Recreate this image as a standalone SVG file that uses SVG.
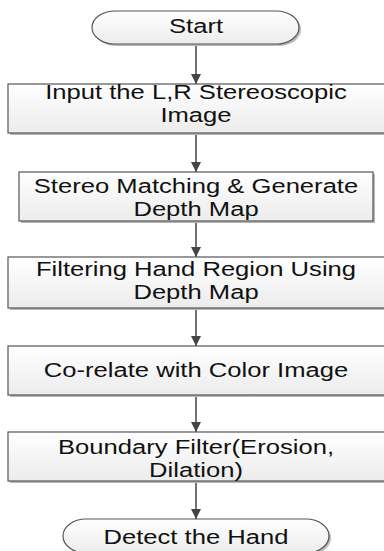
<svg xmlns="http://www.w3.org/2000/svg" width="384" height="551" viewBox="0 0 384 551">
<defs>
<linearGradient id="g" x1="0" y1="0" x2="0" y2="1">
<stop offset="0" stop-color="#ffffff"/>
<stop offset="1" stop-color="#ececec"/>
</linearGradient>
<marker id="ah" viewBox="0 0 10 10" refX="10" refY="5" markerWidth="10" markerHeight="10" markerUnits="userSpaceOnUse" orient="auto">
<path d="M0,0 L10,5 L0,10 z" fill="#444"/>
</marker>
<style>
.sh{fill:#b8b8b8;}
.bx{fill:url(#g);stroke:#555;stroke-width:1.2;}
.t{font-family:"Liberation Sans",Arial,sans-serif;font-size:20px;fill:#111;text-anchor:middle;}
.c{stroke:#444;stroke-width:1.5;fill:none;marker-end:url(#ah);}
</style>
</defs>
<g id="connectors">
<line class="c" x1="196" y1="44" x2="196" y2="84"/>
<line class="c" x1="196" y1="133" x2="196" y2="172"/>
<line class="c" x1="196" y1="221" x2="196" y2="257"/>
<line class="c" x1="196" y1="308" x2="196" y2="346"/>
<line class="c" x1="196" y1="395" x2="196" y2="432"/>
<line class="c" x1="196" y1="481" x2="196" y2="519"/>
</g>
<g id="start">
<rect class="sh" x="94" y="13" width="207" height="33" rx="23" ry="16.5"/>
<rect class="bx" x="92" y="11" width="207" height="33" rx="23" ry="16.5"/>
<text class="t" transform="translate(196 33) scale(1.28 1)">Start</text>
</g>
<g id="input">
<rect class="sh" x="10" y="86" width="380" height="49"/>
<rect class="bx" x="8" y="84" width="380" height="49"/>
<text class="t" transform="translate(196 99) scale(1.28 1)">Input the L,R Stereoscopic</text>
<text class="t" transform="translate(196 122) scale(1.28 1)">Image</text>
</g>
<g id="stereo">
<rect class="sh" x="21" y="174" width="354" height="49"/>
<rect class="bx" x="19" y="172" width="354" height="49"/>
<text class="t" transform="translate(196 193) scale(1.28 1)">Stereo Matching &amp; Generate</text>
<text class="t" transform="translate(196 216) scale(1.28 1)">Depth Map</text>
</g>
<g id="filtering">
<rect class="sh" x="10" y="259" width="380" height="51"/>
<rect class="bx" x="8" y="257" width="380" height="51"/>
<text class="t" transform="translate(196 276) scale(1.28 1)">Filtering Hand Region Using</text>
<text class="t" transform="translate(196 299) scale(1.28 1)">Depth Map</text>
</g>
<g id="corelate">
<rect class="sh" x="10" y="348" width="380" height="49"/>
<rect class="bx" x="8" y="346" width="380" height="49"/>
<text class="t" transform="translate(196 377) scale(1.28 1)">Co-relate with Color Image</text>
</g>
<g id="boundary">
<rect class="sh" x="10" y="434" width="380" height="49"/>
<rect class="bx" x="8" y="432" width="380" height="49"/>
<text class="t" transform="translate(196 454) scale(1.28 1)">Boundary Filter(Erosion,</text>
<text class="t" transform="translate(196 477) scale(1.28 1)">Dilation)</text>
</g>
<g id="end">
<rect class="sh" x="65" y="521" width="266" height="34" rx="23" ry="17"/>
<rect class="bx" x="63" y="519" width="266" height="34" rx="23" ry="17"/>
<text class="t" transform="translate(196 544) scale(1.28 1)">Detect the Hand</text>
</g>
</svg>
